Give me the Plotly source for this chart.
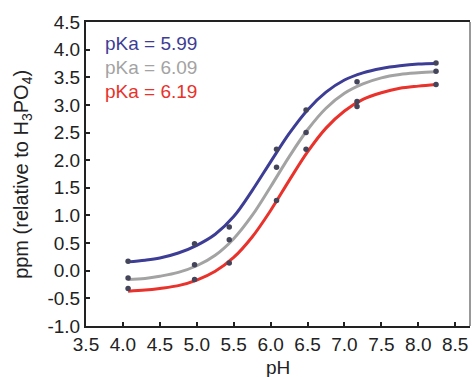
import plotly.graph_objects as go

# Measured data points (pH, chemical shift in ppm)
ph_points = [4.07, 4.97, 5.44, 6.08, 6.48, 7.17, 8.24]
blue_points = [0.17, 0.49, 0.79, 2.20, 2.91, 3.42, 3.76]
gray_points = [-0.13, 0.11, 0.56, 1.87, 2.50, 3.06, 3.61]
red_points = [-0.32, -0.16, 0.14, 1.27, 2.20, 2.97, 3.37]

# Fitted curves
ph_curve = [4.07, 4.3, 4.5, 4.75, 5.0, 5.25, 5.5, 5.75, 6.0, 6.25, 6.5,
            6.75, 7.0, 7.25, 7.5, 7.75, 8.0, 8.24]
blue_curve = [0.16, 0.19, 0.23, 0.32, 0.46, 0.66, 0.98, 1.45, 1.97, 2.48, 2.91,
              3.23, 3.45, 3.58, 3.66, 3.71, 3.74, 3.75]
gray_curve = [-0.16, -0.14, -0.10, -0.03, 0.09, 0.28, 0.58, 1.00, 1.52, 2.06, 2.55,
              2.94, 3.21, 3.38, 3.49, 3.55, 3.58, 3.60]
red_curve = [-0.37, -0.35, -0.32, -0.27, -0.17, -0.01, 0.24, 0.61, 1.09, 1.63, 2.15,
             2.58, 2.89, 3.10, 3.22, 3.30, 3.34, 3.37]

legend_labels = ["pKa = 5.99", "pKa = 6.09", "pKa = 6.19"]
colors = ["#3d3d96", "#a3a3a3", "#e8322b"]

x_ticks = [3.5, 4.0, 4.5, 5.0, 5.5, 6.0, 6.5, 7.0, 7.5, 8.0, 8.5]
y_ticks = [-1.0, -0.5, 0.0, 0.5, 1.0, 1.5, 2.0, 2.5, 3.0, 3.5, 4.0, 4.5]

FONT = "Liberation Sans, Arial, Helvetica, sans-serif"
AX = "#222222"

fig = go.Figure()
for curve, col in zip([blue_curve, gray_curve, red_curve], colors):
    fig.add_trace(go.Scatter(x=ph_curve, y=curve, mode="lines",
                             line=dict(color=col, width=3, shape="spline", smoothing=1.0),
                             showlegend=False, hoverinfo="skip"))
for pts in [blue_points, gray_points, red_points]:
    fig.add_trace(go.Scatter(x=ph_points, y=pts, mode="markers",
                             marker=dict(color="#44445a", size=5.5),
                             showlegend=False))

legend_y = [0.928, 0.849, 0.770]
for lab, col, yy in zip(legend_labels, colors, legend_y):
    fig.add_annotation(x=0.044, y=yy, xref="paper", yref="paper",
                       text=lab, showarrow=False, xanchor="left", yanchor="middle",
                       font=dict(family=FONT, size=19, color=col))

# axis titles
fig.add_annotation(x=0.5, y=-0.138, xref="paper", yref="paper", text="pH",
                   showarrow=False, xanchor="center", yanchor="middle",
                   font=dict(family=FONT, size=19, color=AX))
fig.add_annotation(x=-0.167, y=0.5, xref="paper", yref="paper",
                   text="ppm (relative to H<sub>3</sub>PO<sub>4</sub>)",
                   showarrow=False, xanchor="center", yanchor="middle", textangle=-90,
                   font=dict(family=FONT, size=20, color=AX))

# right frame line (thinner, grey)
fig.add_shape(type="line", xref="paper", yref="paper", x0=1, x1=1, y0=0, y1=1,
              line=dict(color="#777777", width=1.5))

fig.update_layout(
    width=472, height=377,
    margin=dict(l=86, r=2, t=22, b=51),
    paper_bgcolor="white", plot_bgcolor="white",
    font=dict(family=FONT, size=19, color=AX),
)
fig.update_xaxes(range=[3.5, 8.7], tickvals=x_ticks, ticktext=[f"{v:.1f}" for v in x_ticks],
                 ticks="inside", ticklen=4, tickwidth=2, tickcolor=AX,
                 showline=True, linewidth=2, linecolor=AX, mirror=True,
                 showgrid=False, zeroline=False, automargin=False,
                 tickfont=dict(size=19))
fig.update_yaxes(range=[-1.0, 4.5], tickvals=y_ticks, ticktext=[f"{v:.1f}" for v in y_ticks],
                 ticks="inside", ticklen=4, tickwidth=2, tickcolor=AX,
                 showline=True, linewidth=2, linecolor=AX, mirror=False,
                 showgrid=False, zeroline=False, automargin=False,
                 tickfont=dict(size=19))

fig.write_html("out.html", config={"displayModeBar": False},
               post_script="document.body.style.margin='0';document.body.style.padding='0';")
